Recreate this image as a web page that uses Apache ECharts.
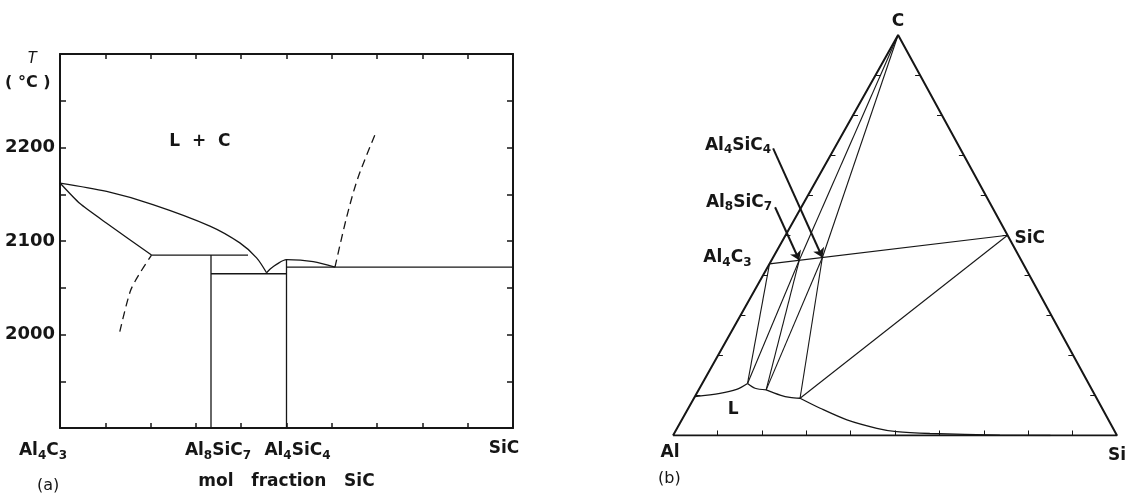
<!DOCTYPE html>
<html>
<head>
<meta charset="utf-8">
<title>Al4C3–SiC section and Al–Si–C section</title>
<script src="https://cdn.jsdelivr.net/npm/echarts@6/dist/echarts.min.js"></script>
<style>
  html, body { margin: 0; padding: 0; background: #fff; }
  #chart { width: 1126px; height: 495px; }
</style>
</head>
<body>
<div id="chart"></div>
<script>
// ---- (a) Al4C3 - SiC section: [mol fraction SiC, T (°C)] ----
const liquidusC = [[0, 2162], [0.103, 2153], [0.205, 2139], [0.331, 2116], [0.397, 2098], [0.434, 2082], [0.456, 2066]]
const liquidusAl4C3 = [[0, 2162], [0.044, 2140], [0.103, 2119], [0.202, 2085]]
const peritectic = [[0.202, 2085], [0.415, 2085]]
const al8sic7Line = [[1 / 3, 2085], [1 / 3, 1900]]
const eutecticLow = [[1 / 3, 2065], [0.5, 2065]]
const liquidusAl4SiC4 = [[0.456, 2066], [0.464, 2070], [0.478, 2075], [0.5, 2080], [0.559, 2078], [0.607, 2072]]
const al4sic4Line = [[0.5, 2080], [0.5, 1900]]
const sicEutectic = [[0.5, 2072], [1, 2072]]
const dashedLeft = [[0.132, 2003], [0.155, 2046], [0.173, 2063], [0.202, 2085]]
const dashedRight = [[0.607, 2072], [0.633, 2126], [0.658, 2168], [0.699, 2218]]
const regionLabel = [0.309, 2206]

const xTickValues = [0, 1 / 3, 0.5, 1]
const xTickNames = ['Al4C3', 'Al8SiC7', 'Al4SiC4', 'SiC']
const yTickValues = [2000, 2100, 2200]

// ---- (b) Al-Si-C section: points as [fraction Si, fraction C] ----
const pAl = [0, 0], pSi = [1, 0], pC = [0, 1]
const pAl4C3 = [0, 3 / 7], pAl8SiC7 = [1 / 16, 7 / 16], pAl4SiC4 = [1 / 9, 4 / 9], pSiC = [0.5, 0.5]
const pL1 = [0.102, 0.130], pL2 = [0.152, 0.114], pL3 = [0.239, 0.093]
const liqAl = [[0, 0.097], [0.0525, 0.105], [0.085, 0.115], pL1]
const liq12 = [pL1, [0.125, 0.118], pL2]
const liq23 = [pL2, [0.19, 0.101], [0.215, 0.095], pL3]
const liqSi = [pL3, [0.297, 0.068], [0.372, 0.039], [0.45, 0.018], [0.499, 0.0095], [0.576, 0.005], [0.736, 0.0008], [0.85, 0]]
const tieLines = [
  [pAl4C3, pSiC], [pC, pAl8SiC7], [pC, pAl4SiC4],
  [pAl4C3, pL1], [pAl8SiC7, pL1], [pAl8SiC7, pL2], [pAl4SiC4, pL2], [pAl4SiC4, pL3], [pSiC, pL3]
]
const arrowTails = [[-0.138, 0.717], [-0.059, 0.570]] // Al4SiC4, Al8SiC7
const edgeTicks = [0.1, 0.2, 0.3, 0.4, 0.5, 0.6, 0.7, 0.8, 0.9]
const ternNames = ['C', 'SiC', 'Al', 'Si', 'Al4C3', 'Al8SiC7', 'Al4SiC4', 'L']
const ternAnchors = [pC, pSiC, pAl, pSi, pAl4C3, arrowTails[1], arrowTails[0], [0.103, 0.064]]

const INK = '#161616'
const SANS = '"DejaVu Sans", "Liberation Sans", sans-serif'
const APEX = 0.507 // x of the C corner, drawing is not quite equilateral
const tern = (p) => [p[0] + APEX * p[1], p[1]]

// chemical formula -> rich text with subscripts
const chem = (s) => s.match(/[A-Za-z]+|\d+/g).map((t) => (/\d/.test(t) ? `{s|${t}}` : `{n|${t}}`)).join('')

const xLabelShift = [-17, 7, 11, -9]
const rich = {
  n: { fontFamily: SANS, fontWeight: 'bold', fontSize: 17, color: INK },
  s: { fontFamily: SANS, fontWeight: 'bold', fontSize: 12, color: INK, padding: [10, 0, 0, 0] }
}
xLabelShift.forEach((d, i) => { rich['p' + i] = { width: Math.abs(d) * 2, fontSize: 10 } })

const line = (data, extra) => Object.assign({
  type: 'line', data, symbol: 'none', silent: true, animation: false,
  xAxisIndex: 0, yAxisIndex: 0,
  lineStyle: { color: INK, width: 1.3 }
}, extra)
const ternLine = (pts, extra) => line(pts.map(tern), Object.assign({ xAxisIndex: 2, yAxisIndex: 2 }, extra))

const tickSegs = []
edgeTicks.forEach((t) => {
  const b = tern([t, 0]); tickSegs.push([b, [b[0], b[1] + 0.0125]])
  const l = tern([0, t]); tickSegs.push([l, [l[0] + 0.011, l[1]]])
  const r = tern([1 - t, t]); tickSegs.push([r, [r[0] - 0.011, r[1]]])
})

const labelPlace = {
  C: { position: 'top', distance: 5 },
  SiC: { position: 'right', distance: 7, offset: [0, 3] },
  Al: { position: 'bottom', distance: 9, offset: [-3, 0] },
  Si: { position: 'bottom', distance: 12 },
  Al4C3: { position: 'left', distance: 18, offset: [0, -6] },
  Al8SiC7: { position: 'left', distance: 3, offset: [0, -5] },
  Al4SiC4: { position: 'left', distance: 2, offset: [0, -3] },
  L: { position: 'inside' }
}

const boxAxis = {
  min: 0, max: 1, interval: 0.1,
  axisLine: { onZero: false, lineStyle: { color: INK, width: 2 } },
  axisTick: { inside: true, length: 5, lineStyle: { color: INK, width: 1.5 } },
  splitLine: { show: false }
}
const boxYAxis = {
  min: 1900, max: 2300, interval: 50,
  axisLine: { onZero: false, lineStyle: { color: INK, width: 2 } },
  axisTick: { inside: true, length: 6, lineStyle: { color: INK, width: 1.5 } },
  splitLine: { show: false }
}

const chart = echarts.init(document.getElementById('chart'))
chart.setOption({
  backgroundColor: '#fff',
  animation: false,
  grid: [
    { left: 60, top: 54, width: 453, height: 380 },
    { left: 673, top: 35, width: 444, height: 400.5 }
  ],
  xAxis: [
    Object.assign({}, boxAxis, {
      gridIndex: 0, type: 'value', position: 'bottom',
      name: 'mol   fraction   SiC', nameLocation: 'middle', nameGap: 45,
      nameTextStyle: { fontFamily: SANS, fontWeight: 'bold', fontSize: 17, color: INK },
      axisLabel: {
        customValues: xTickValues, margin: 12, rich,
        formatter: (v) => {
          const i = xTickValues.findIndex((t) => Math.abs(t - v) < 1e-6)
          if (i < 0) return ''
          const pad = `{p${i}| }`
          return xLabelShift[i] > 0 ? pad + chem(xTickNames[i]) : chem(xTickNames[i]) + pad
        }
      }
    }),
    Object.assign({}, boxAxis, { gridIndex: 0, type: 'value', position: 'top', axisLabel: { show: false } }),
    { gridIndex: 1, type: 'value', min: 0, max: 1, show: false }
  ],
  yAxis: [
    Object.assign({}, boxYAxis, {
      gridIndex: 0, type: 'value', position: 'left',
      axisLabel: {
        customValues: yTickValues, margin: 5, formatter: (v) => String(v),
        fontFamily: SANS, fontWeight: 'bold', fontSize: 18, color: INK
      }
    }),
    Object.assign({}, boxYAxis, { gridIndex: 0, type: 'value', position: 'right', axisLabel: { show: false } }),
    { gridIndex: 1, type: 'value', min: 0, max: 1, show: false }
  ],
  graphic: [
    { type: 'text', left: 27, top: 51, style: { text: 'T', font: 'italic 16px "Liberation Sans"', fill: INK } },
    { type: 'text', left: 5, top: 75, style: { text: '( °C )', font: 'bold 16px "DejaVu Sans"', fill: INK } },
    { type: 'text', left: 37, top: 478, style: { text: '(a)', font: '16px "DejaVu Sans"', fill: INK } },
    { type: 'text', left: 658, top: 471, style: { text: '(b)', font: '16px "DejaVu Sans"', fill: INK } }
  ],
  series: [
    // (a)
    line(liquidusC, { smooth: 0.3 }),
    line(liquidusAl4C3, { smooth: 0.2 }),
    line(peritectic),
    line(al8sic7Line),
    line(eutecticLow),
    line(liquidusAl4SiC4, { smooth: 0.3 }),
    line(al4sic4Line),
    line(sicEutectic),
    line(dashedLeft, { smooth: 0.3, lineStyle: { color: INK, width: 1.3, type: [8, 5] } }),
    line(dashedRight, { smooth: 0.3, lineStyle: { color: INK, width: 1.3, type: [8, 5] } }),
    {
      type: 'scatter', xAxisIndex: 0, yAxisIndex: 0, symbolSize: 0, silent: true,
      itemStyle: { opacity: 1 },
      data: [regionLabel],
      label: { show: true, position: 'inside', formatter: 'L  +  C', fontFamily: SANS, fontWeight: 'bold', fontSize: 17, color: INK }
    },
    // (b)
    ternLine([pAl, pC, pSi, pAl], { lineStyle: { color: INK, width: 2 } }),
    ternLine(liqAl, { smooth: 0.3 }),
    ternLine(liq12, { smooth: 0.3 }),
    ternLine(liq23, { smooth: 0.3 }),
    ternLine(liqSi, { smooth: 0.3 }),
    {
      type: 'lines', coordinateSystem: 'cartesian2d', xAxisIndex: 2, yAxisIndex: 2, silent: true,
      data: tieLines.map((c) => ({ coords: c.map(tern) })),
      lineStyle: { color: INK, width: 1.1, opacity: 1, curveness: 0 }
    },
    {
      type: 'lines', coordinateSystem: 'cartesian2d', xAxisIndex: 2, yAxisIndex: 2, silent: true,
      data: tickSegs.map((c) => ({ coords: c })),
      lineStyle: { color: INK, width: 1, opacity: 1 }
    },
    {
      type: 'lines', coordinateSystem: 'cartesian2d', xAxisIndex: 2, yAxisIndex: 2, silent: true,
      symbol: ['none', 'arrow'], symbolSize: 9,
      data: [
        { coords: [tern(arrowTails[0]), tern(pAl4SiC4)] },
        { coords: [tern(arrowTails[1]), tern(pAl8SiC7)] }
      ],
      lineStyle: { color: INK, width: 2, opacity: 1 }
    },
    {
      type: 'scatter', xAxisIndex: 2, yAxisIndex: 2, symbolSize: 0, silent: true,
      itemStyle: { opacity: 1 },
      data: ternNames.map((n, i) => ({
        name: n, value: tern(ternAnchors[i]),
        label: Object.assign({ show: true }, labelPlace[n])
      })),
      label: { formatter: (p) => chem(p.name), rich, color: INK }
    }
  ]
})
</script>
</body>
</html>
